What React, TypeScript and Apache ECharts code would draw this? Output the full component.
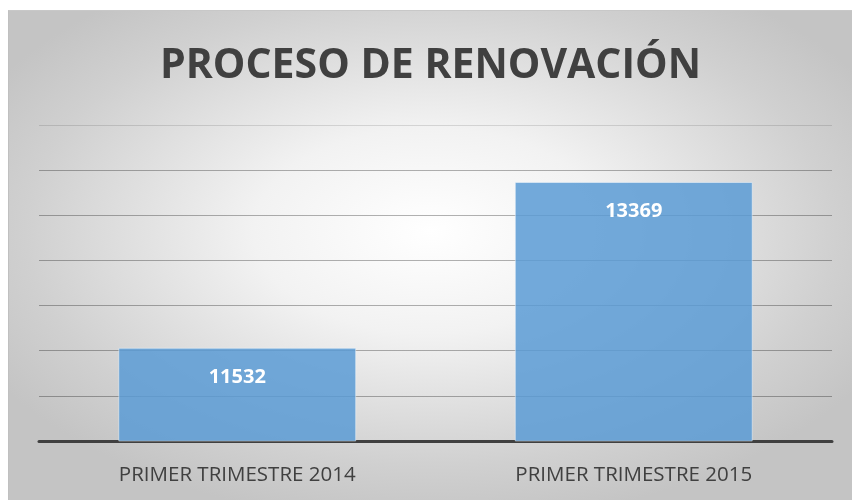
import React, { useEffect, useRef } from "react";
import * as echarts from "echarts";

const categories = ["PRIMER TRIMESTRE 2014", "PRIMER TRIMESTRE 2015"];
const values = [11532, 13369];
const titleText = "PROCESO DE RENOVACIÓN";

export default function App() {
  const ref = useRef<HTMLDivElement>(null);
  useEffect(() => {
    if (!ref.current) return;
    const chart = echarts.init(ref.current, undefined, { renderer: "svg" });
    const gridColors = [
      "rgba(0,0,0,0.3)",
      "rgba(0,0,0,0.3)",
      "rgba(0,0,0,0.3)",
      "rgba(0,0,0,0.3)",
      "rgba(0,0,0,0.3)",
      "rgba(0,0,0,0.3)",
      "rgba(0,0,0,0.3)",
      "rgba(0,0,0,0.12)",
    ];
    chart.setOption({
      animation: false,
      backgroundColor: "transparent",
      title: {
        text: titleText,
        left: "center",
        top: 25,
        textStyle: {
          fontFamily: "Open Sans",
          fontWeight: "bold",
          fontSize: 41,
          color: "#404040",
        },
      },
      grid: { left: 30, right: 20, top: 114, bottom: 59 },
      xAxis: {
        type: "category",
        data: categories,
        axisTick: { show: false },
        axisLine: { lineStyle: { color: "#404040", width: 3 } },
        axisLabel: {
          fontFamily: "Open Sans",
          fontSize: 20.5,
          color: "#404040",
          margin: 21,
        },
      },
      yAxis: {
        type: "value",
        min: 10500,
        max: 14000,
        interval: 500,
        axisLabel: { show: false },
        axisLine: { show: false },
        axisTick: { show: false },
        splitLine: { lineStyle: { color: gridColors, width: 1 } },
      },
      series: [
        {
          type: "bar",
          data: values,
          barWidth: "60%",
          itemStyle: {
            color: "rgba(91,155,213,0.85)",
            borderColor: "rgba(255,255,255,0.45)",
            borderWidth: 1,
          },
          label: {
            show: true,
            position: "insideTop",
            distance: 18,
            fontFamily: "Open Sans",
            fontWeight: "bold",
            fontSize: 20,
            color: "#ffffff",
          },
        },
      ],
    });
    return () => chart.dispose();
  }, []);
  return (
    <div
      style={{
        position: "fixed",
        left: 8,
        top: 10,
        width: 844,
        height: 490,
        background:
          "radial-gradient(ellipse 60% 60% at 50% 45%, #ffffff 0%, #f2f2f2 35%, #d0d0d0 80%, #c4c4c4 100%)",
        borderLeft: "1px solid #c0c0c0",
        borderTop: "1px solid #c8c8c8",
        boxSizing: "border-box",
      }}
    >
      <div ref={ref} style={{ width: "100%", height: "100%" }} />
    </div>
  );
}
